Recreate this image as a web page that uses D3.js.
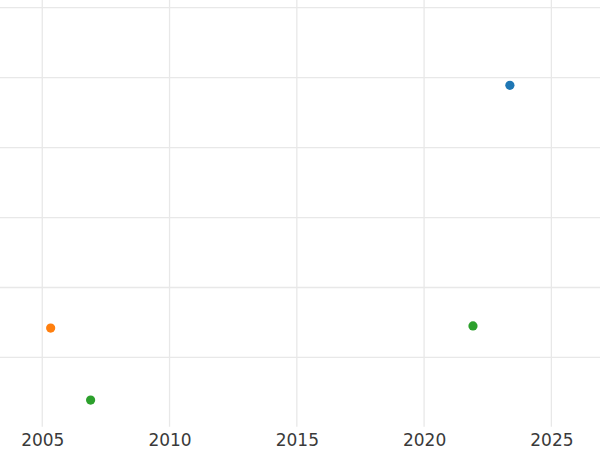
<!DOCTYPE html>
<html><head><meta charset="utf-8">
<script src="https://cdn.jsdelivr.net/npm/d3@7"></script>
<style>html,body{margin:0;padding:0;background:#fff;}svg{display:block;}</style>
</head><body>
<svg id="chart" width="600" height="450"></svg>
<script>
const xTicks = [2005, 2010, 2015, 2020, 2025];
const yTicks = [0, 1, 2, 3, 4, 5];
const seriesNames = ["A", "B", "C"];
const seriesColors = ["#1f77b4", "#ff7f0e", "#2ca02c"];
const pointSeries = ["A", "B", "C", "C"];
const pointX = [2023.37, 2005.33, 2006.90, 2021.92];
const pointY = [3.89, 0.42, -0.61, 0.45];

const W = 600, H = 450, plotBottom = 426.7;
const svg = d3.select("#chart");
const x = d3.scaleLinear().domain([2003.34, 2026.91]).range([0, W]);
const y = d3.scaleLinear().domain([-0.99, 5.11]).range([plotBottom, 0]);
const color = d3.scaleOrdinal().domain(seriesNames).range(seriesColors);

const grid = svg.append("g");
grid.selectAll("line.v").data(xTicks).join("line").attr("class","v")
  .attr("x1", d => x(d)).attr("x2", d => x(d))
  .attr("y1", 0).attr("y2", plotBottom)
  .attr("stroke", "#e8e8e8").attr("stroke-width", 1.3);
grid.selectAll("line.h").data(yTicks).join("line").attr("class","h")
  .attr("x1", 0).attr("x2", W)
  .attr("y1", d => y(d)).attr("y2", d => y(d))
  .attr("stroke", "#e8e8e8").attr("stroke-width", 1.3);

const xAxis = svg.append("g").attr("transform", `translate(0,${plotBottom})`)
  .call(d3.axisBottom(x).tickValues(xTicks).tickFormat(d3.format("d")).tickSize(0).tickPadding(7));
xAxis.select(".domain").remove();
xAxis.selectAll("text").attr("font-family", "DejaVu Sans").attr("font-size", 17).attr("fill", "#3a3a3a");

const pts = pointX.map((v, i) => ({x: v, y: pointY[i], s: pointSeries[i]}));
svg.append("g").selectAll("circle").data(pts).join("circle")
  .attr("cx", d => x(d.x)).attr("cy", d => y(d.y)).attr("r", 4.6)
  .attr("fill", d => color(d.s));
</script>
</body></html>
